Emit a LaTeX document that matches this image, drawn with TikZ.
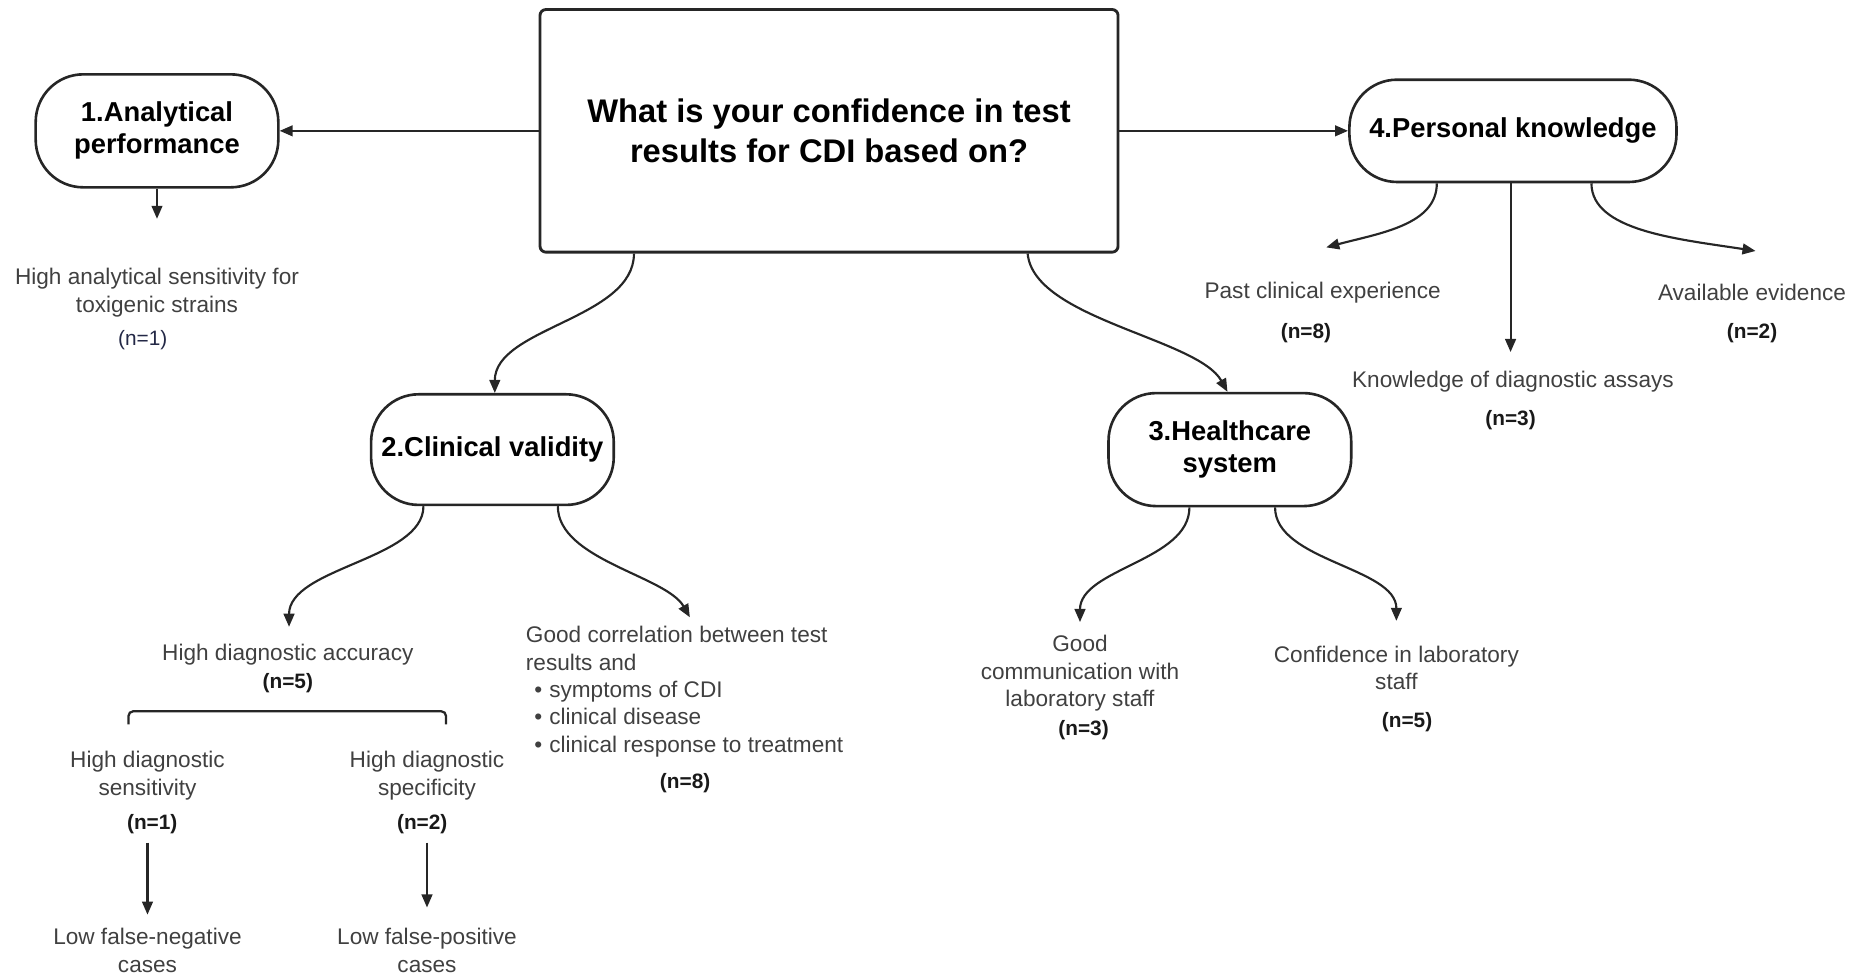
\documentclass[tikz,border=0pt]{standalone}
\usepackage{fontspec}
\setmainfont{Liberation Sans}
\usetikzlibrary{arrows.meta}

\begin{document}
\begin{tikzpicture}[x=1pt,y=-1pt,
  qbox/.style={draw=black!85, line width=2.4pt, rounded corners=5pt, align=center,
    font=\fontsize{27.5}{33}\selectfont\bfseries, minimum width=486pt, minimum height=204pt},
  catbox/.style={draw=black!85, line width=2.2pt, rounded corners=40pt, align=center,
    font=\fontsize{23}{27}\selectfont\bfseries, inner sep=0pt},
  item/.style={align=center, text=black!75, font=\fontsize{19}{23}\selectfont, inner sep=0pt},
  count/.style={font=\fontsize{17.5}{21}\selectfont\bfseries, text=black!90, inner sep=0pt},
  arr/.style={draw=black!85, line width=1.8pt, -{Triangle[length=11pt,width=9pt]}},
  brace/.style={draw=black!85, line width=1.9pt, rounded corners=4pt},
]
\useasboundingbox (0,0) rectangle (1568,819);

% question and the four categories
\node[qbox] (q) at (697,110) {What is your confidence in test\\results for CDI based on?};
\node[catbox, minimum width=204pt, minimum height=95pt] (c1) at (132,110) {1.Analytical\\performance};
\node[catbox, minimum width=275pt, minimum height=86pt] (c4) at (1272,110) {4.Personal knowledge};
\node[catbox, minimum width=204pt, minimum height=93pt] (c2) at (414,378) {2.Clinical validity};
\node[catbox, minimum width=204pt, minimum height=95pt] (c3) at (1034,378) {3.Healthcare\\system};

% 1. analytical performance
\node[item] (t1) at (132,246) {High analytical sensitivity for\\toxigenic strains};
\node[count, font=\fontsize{17.5}{21}\selectfont, text={rgb,255:red,35;green,40;blue,70}] (n1) at (120,286) {(n=1)};
\coordinate (t1in) at (132,184);

% 4. personal knowledge
\node[item] (t4a) at (1112,246) {Past clinical experience};
\node[count] (n4a) at (1098,280) {(n=8)};
\node[item] (t4b) at (1272,321) {Knowledge of diagnostic assays};
\node[count] (n4b) at (1270,353) {(n=3)};
\node[item] (t4c) at (1473,246) {Available evidence};
\node[count] (n4c) at (1473,280) {(n=2)};
\coordinate (t4ain) at (1115,208);
\coordinate (t4bin) at (1270,296);
\coordinate (t4cin) at (1476,211);

% 2. clinical validity
\node[item] (t2a) at (242,550) {High diagnostic accuracy};
\node[count] (n2a) at (242,574) {(n=5)};
\node[item, align=left, anchor=west] (t2b) at (442,581.5)
  {Good correlation between test\\results and\\
   \hspace*{7pt}•\hspace*{6pt}symptoms of CDI\\
   \hspace*{7pt}•\hspace*{6pt}clinical disease\\
   \hspace*{7pt}•\hspace*{6pt}clinical response to treatment};
\node[count] (n2b) at (576,658) {(n=8)};
\coordinate (t2ain) at (243,527);
\coordinate (t2bin) at (580,519);

\node[item] (sens) at (124,652) {High diagnostic\\sensitivity};
\node[count] (nsens) at (128,693) {(n=1)};
\node[item] (spec) at (359,652) {High diagnostic\\specificity};
\node[count] (nspec) at (355,693) {(n=2)};
\node[item] (fneg) at (124,799) {Low false-negative\\cases};
\node[item] (fpos) at (359,799) {Low false-positive\\cases};
\coordinate (fnegin) at (124,769);
\coordinate (fposin) at (359,763);

% bracket grouping sensitivity and specificity
\coordinate (brl) at (108,609);
\coordinate (brr) at (375,609);
\draw[brace] (brl) -- (brl |- 0,598) -- (brr |- 0,598) -- (brr);

% 3. healthcare system
\node[item] (t3a) at (908,566) {Good\\communication with\\laboratory staff};
\node[count] (n3a) at (911,614) {(n=3)};
\node[item] (t3b) at (1174,561.5) {Confidence in laboratory\\staff};
\node[count] (n3b) at (1183,607) {(n=5)};
\coordinate (t3ain) at (908,523);
\coordinate (t3bin) at (1174,522);

% connectors from the question
\draw[arr] (q.west) -- (c1.east);
\draw[arr] (q.east) -- (c4.west);
\draw[arr] ([xshift=-164pt]q.south) .. controls +(0,55) and +(0,-55) .. ([xshift=2pt]c2.north);
\draw[arr] ([xshift=167pt]q.south) .. controls +(5,55) and +(-25,-45) .. ([xshift=-2pt]c3.north);

% connectors from the categories
\draw[arr] (c1.south) -- (t1in);
\draw[arr] ([xshift=-64pt]c4.south) .. controls +(0,35) and +(45,-12) .. (t4ain);
\draw[arr] ([xshift=-2pt]c4.south) -- (t4bin);
\draw[arr] ([xshift=66pt]c4.south) .. controls +(0,40) and +(-65,-10) .. (t4cin);
\draw[arr] ([xshift=-58pt]c2.south) .. controls +(0,45) and +(0,-50) .. (t2ain);
\draw[arr] ([xshift=55pt]c2.south) .. controls +(0,45) and +(-20,-35) .. (t2bin);
\draw[arr] ([xshift=-34pt]c3.south) .. controls +(0,45) and +(0,-45) .. (t3ain);
\draw[arr] ([xshift=38pt]c3.south) .. controls +(0,45) and +(0,-45) .. (t3bin);
\draw[arr, shorten <=7pt] (nsens.south -| fnegin) -- (fnegin);
\draw[arr, shorten <=7pt] (nspec.south -| fposin) -- (fposin);
\end{tikzpicture}
\end{document}
